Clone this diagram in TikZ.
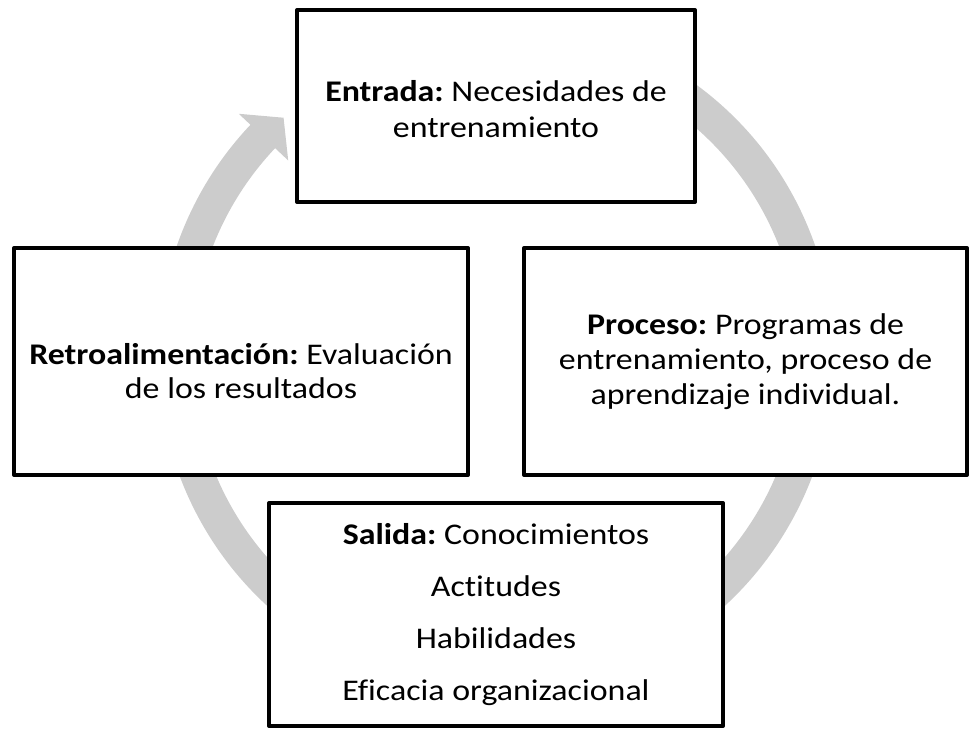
\documentclass[tikz,border=0pt]{standalone}
\usepackage{fontspec}
\setmainfont{Carlito}[FakeStretch=1.13, Ligatures=NoCommon]
\usetikzlibrary{calc}
\definecolor{ringgray}{RGB}{204,204,204}
\tikzset{
  box/.style={draw=black, fill=white, line width=4, line join=round, rectangle, align=center, inner sep=0pt},
  txt/.style={font=\fontsize{30}{36.6}\selectfont},
}
\begin{document}
\frenchspacing
\begin{tikzpicture}[x=1pt,y=-1pt]
\useasboundingbox (0,0) rectangle (971,729);
\coordinate (c) at (496,357);
% ring with arrow
\draw[ringgray, line width=34] (c) ++(-110:321) arc[start angle=-110, end angle=223.8, radius=321];
\fill[ringgray] ($(c)+(223.4:286)$) -- ($(c)+(223.4:354)$) -- ($(c)+(228.4:320)$) -- cycle;
% boxes
\node[box, txt, minimum width=398, minimum height=192] (entrada) at (496,106)
  {\rule{0pt}{27pt}\textbf{Entrada:} Necesidades de\\entrenamiento};
\node[box, font=\fontsize{30}{34}\selectfont, minimum width=454, minimum height=227] (retro) at (241,361.5)
  {\rule{0pt}{40pt}\textbf{Retroalimentación:} Evaluación\\de los resultados};
\node[box, font=\fontsize{30}{35}\selectfont, minimum width=443, minimum height=227] (proceso) at (745.5,361.5)
  {\textbf{Proceso:} Programas de\\entrenamiento, proceso de\\aprendizaje individual.};
\node[box, font=\fontsize{30}{52}\selectfont, minimum width=454, minimum height=223] (salida) at (496,614.5)
  {\textbf{Salida:} Conocimientos\\Actitudes\\Habilidades\\Eficacia organizacional};
\end{tikzpicture}
\end{document}
